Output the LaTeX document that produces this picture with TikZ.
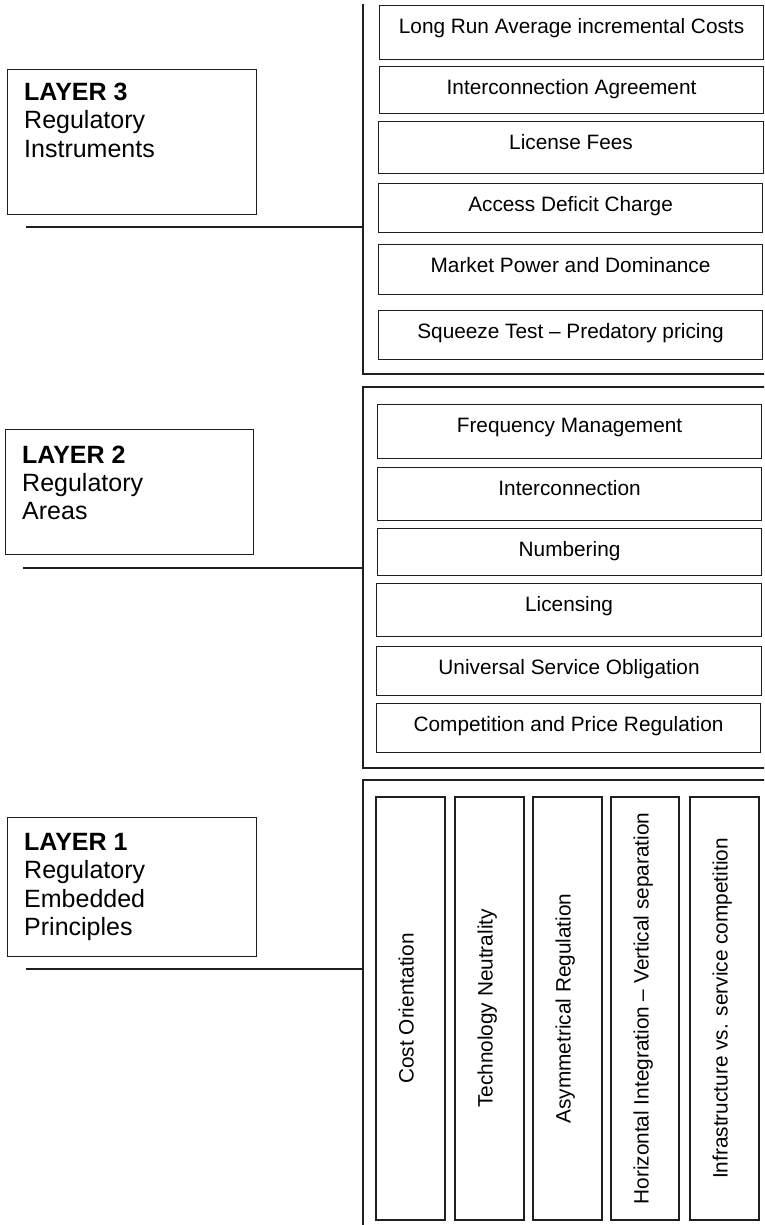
\documentclass[tikz,border=0pt]{standalone}
\usepackage{fontspec}
\setmainfont{Liberation Sans}
\begin{document}
\begin{tikzpicture}[x=1pt,y=-1pt,
  ink/.style={draw=black!88},
  frame/.style={ink, line width=1.5pt},
  link/.style={ink, line width=1.5pt},
  item/.style={ink, line width=1.1pt, anchor=north west, inner sep=0pt,
    text height=28pt, font=\fontsize{20.8}{24}\selectfont},
  pillar/.style={ink, line width=1.1pt, rotate=90, inner sep=0pt,
    minimum width=423pt, text height=37.5pt, text depth=31.5pt,
    font=\fontsize{20.8}{24}\selectfont},
  layerbox/.style={ink, line width=1.1pt, anchor=north west, inner sep=0pt},
  layertext/.style={anchor=north west, inner sep=0pt, align=left,
    font=\fontsize{25}{28.3}\selectfont}]
\useasboundingbox (0,0) rectangle (764,1225);
\path[clip] (0,0) rectangle (764,1225);

% --- group frames (right edge runs off the page)
\coordinate (g3a) at (363,4);
\coordinate (g3b) at (363,374);
\draw[frame] (g3a) -- (g3b) -- (790,374);
\coordinate (g2a) at (363,387);
\coordinate (g2b) at (363,768);
\draw[frame] (790,387) -- (g2a) -- (g2b) -- (790,768);
\coordinate (g1a) at (363,780);
\coordinate (g1b) at (363,1240);
\draw[frame] (790,780) -- (g1a) -- (g1b);

% --- layer 3: regulatory instruments
\node[item, minimum width=384pt, text depth=26pt] (i31) at (379,5) {Long Run Average incremental Costs};
\node[item, minimum width=384pt, text depth=19pt] (i32) at (379,66) {Interconnection Agreement};
\node[item, minimum width=385pt, text depth=24pt] (i33) at (378,121) {License Fees};
\node[item, minimum width=384pt, text depth=21pt] (i34) at (378,183) {Access Deficit Charge};
\node[item, minimum width=384pt, text depth=22pt] (i35) at (378,244) {Market Power and Dominance};
\node[item, minimum width=384pt, text depth=21pt] (i36) at (378,310) {Squeeze Test – Predatory pricing};

% --- layer 2: regulatory areas
\node[item, minimum width=384pt, text depth=26pt] (i21) at (377,404) {Frequency Management};
\node[item, minimum width=384pt, text depth=25pt] (i22) at (377,467) {Interconnection};
\node[item, minimum width=384pt, text depth=19pt] (i23) at (377,528) {Numbering};
\node[item, minimum width=385pt, text depth=25pt] (i24) at (376,583) {Licensing};
\node[item, minimum width=385pt, text depth=21pt] (i25) at (376,646) {Universal Service Obligation};
\node[item, minimum width=384pt, text depth=21pt] (i26) at (376,703) {Competition and Price Regulation};

% --- layer 1: embedded principles
\node[pillar] (p1) at (410.5,1008.5) {Cost Orientation};
\node[pillar] (p2) at (489.5,1008.5) {Technology Neutrality};
\node[pillar] (p3) at (567.5,1008.5) {Asymmetrical Regulation};
\node[pillar, text depth=30.5pt] (p4) at (645,1008.5) {Horizontal Integration – Vertical separation};
\node[pillar] (p5) at (724.5,1008.5) {Infrastructure vs. service competition};

% --- layer captions
\node[layerbox, minimum width=249pt, minimum height=145pt] (L3) at (7,69) {};
\node[layertext] (L3t) at (24,83) {\textbf{LAYER 3}\\Regulatory\\Instruments};
\node[layerbox, minimum width=248pt, minimum height=125pt] (L2) at (5,429) {};
\node[layertext] (L2t) at (22,445.5) {\textbf{LAYER 2}\\Regulatory\\Areas};
\node[layerbox, minimum width=249pt, minimum height=139pt] (L1) at (7,817) {};
\node[layertext] (L1t) at (24,833) {\textbf{LAYER 1}\\Regulatory\\Embedded\\Principles};

% --- connectors from captions to their groups
\coordinate (s3) at (26,227);
\draw[link] (s3) -- (s3 -| g3a);
\coordinate (s2) at (23,568);
\draw[link] (s2) -- (s2 -| g2a);
\coordinate (s1) at (26,969);
\draw[link] (s1) -- (s1 -| g1a);
\end{tikzpicture}
\end{document}
